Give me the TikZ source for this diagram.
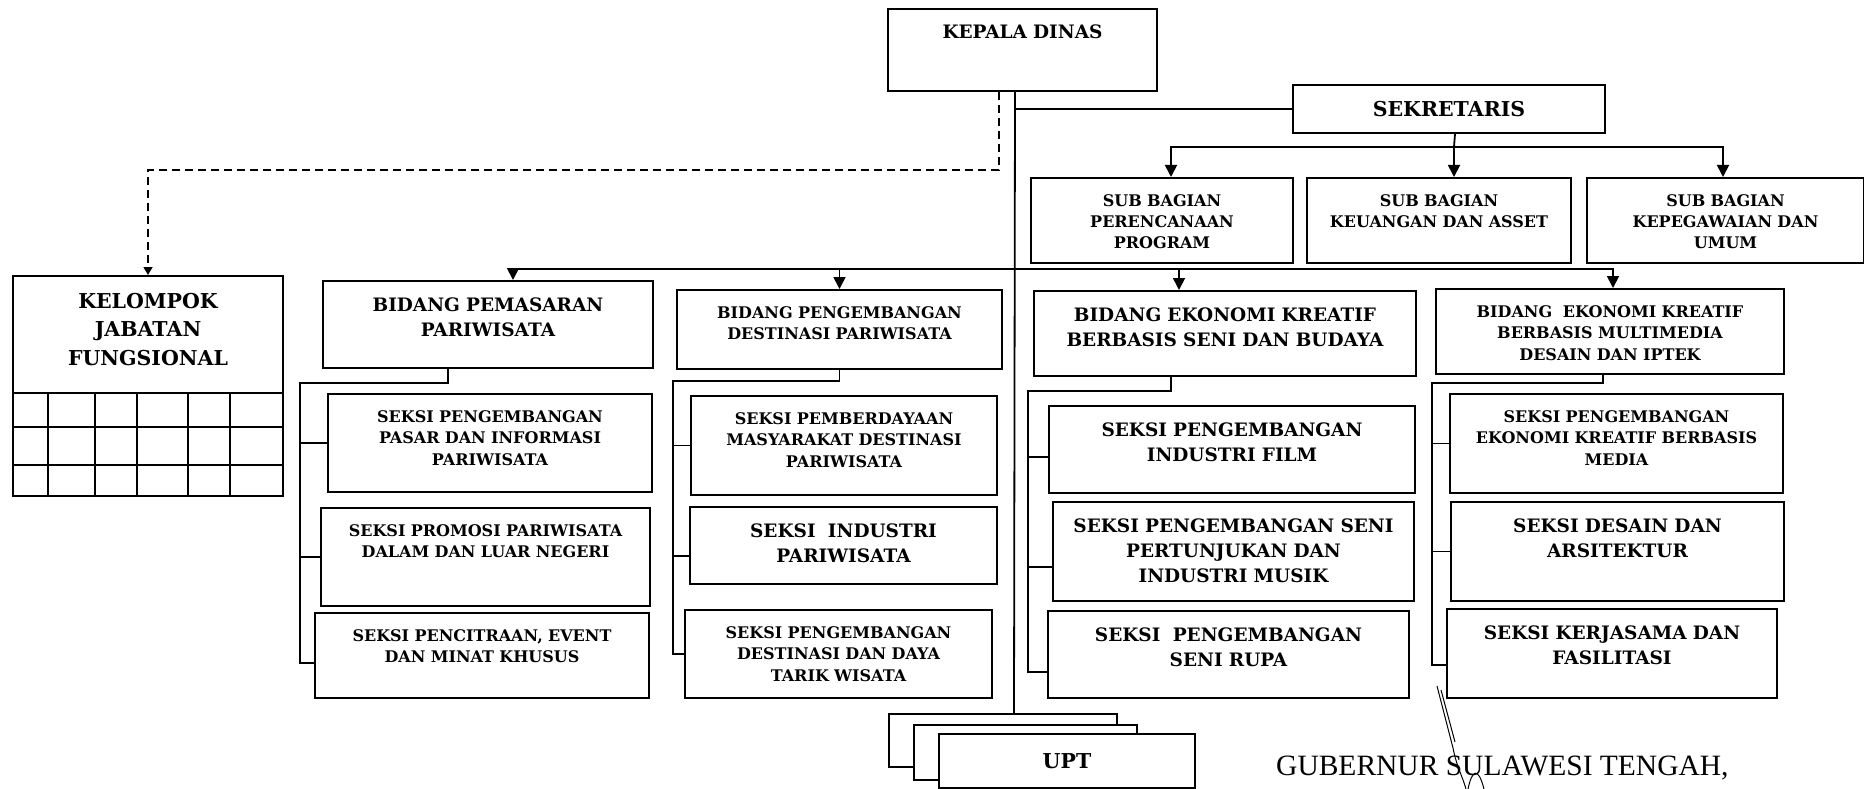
\documentclass[tikz,border=0pt]{standalone}
\usepackage{fontspec}
\setmainfont{DejaVu Serif}
\newfontfamily\signfont{Liberation Serif}
\usetikzlibrary{arrows.meta, positioning, calc}

\begin{document}
\begin{tikzpicture}[
    x=1pt, y=-1pt,
    box/.style={draw, line width=2pt, anchor=north west, inner sep=0pt, align=center},
    smallbox/.style 2 args={box, font=\fontsize{16}{21.5}\selectfont\bfseries, text width=#1pt, text height=28pt, text depth=#2pt-28pt},
    midbox/.style 2 args={box, font=\fontsize{18.5}{25}\selectfont\bfseries, text width=#1pt, text height=30pt, text depth=#2pt-30pt},
    bigbox/.style 2 args={box, font=\fontsize{20.5}{28.5}\selectfont\bfseries, text width=#1pt, text height=32pt, text depth=#2pt-32pt},
    uptbox/.style 2 args={box, fill=white, minimum width=#1pt, minimum height=#2pt},
    conn/.style={line width=1.8pt},
    arrow/.style={conn, -{Triangle[length=12pt, width=12pt]}},
    dashline/.style={line width=1.4pt, dash pattern=on 8pt off 5pt, -{Triangle[length=8pt, width=9pt]}},
    gridline/.style={line width=1.8pt}
]
\useasboundingbox (0,0) rectangle (1864,789);

% Nodes
\node[midbox={269}{82}] (kepala) at (887,8) {KEPALA DINAS};
\node[bigbox={312}{48}] (sekretaris) at (1292,84) {SEKRETARIS};
\node[smallbox={262}{85}] (sbrenc) at (1030,177) {SUB BAGIAN\\PERENCANAAN\\PROGRAM};
\node[smallbox={264}{85}] (sbkeu) at (1306,177) {SUB BAGIAN\\KEUANGAN DAN ASSET};
\node[smallbox={277}{85}] (sbpeg) at (1586,177) {SUB BAGIAN\\KEPEGAWAIAN DAN\\UMUM};
\node[bigbox={270}{220}] (kelompok) at (12,275) {KELOMPOK\\JABATAN\\FUNGSIONAL};

\node[midbox={330}{87}] (bpem) at (322,280) {BIDANG PEMASARAN\\PARIWISATA};
\node[smallbox={325}{79}] (bdes) at (676,289) {BIDANG PENGEMBANGAN\\DESTINASI PARIWISATA};
\node[midbox={382}{85}] (bseni) at (1033,290) {BIDANG EKONOMI KREATIF\\BERBASIS SENI DAN BUDAYA};
\node[smallbox={348}{85}] (bmm) at (1435,288) {BIDANG\ \ EKONOMI KREATIF\\BERBASIS MULTIMEDIA\\DESAIN DAN IPTEK};

\node[smallbox={324}{98}] (spasar) at (327,393) {SEKSI PENGEMBANGAN\\PASAR DAN INFORMASI\\PARIWISATA};
\node[smallbox={329}{98}] (spromo) at (320,507) {SEKSI PROMOSI PARIWISATA\\DALAM DAN LUAR NEGERI};
\node[smallbox={334}{85}] (scitra) at (314,612) {SEKSI PENCITRAAN, EVENT\\DAN MINAT KHUSUS};

\node[smallbox={306}{99}] (sberdaya) at (690,395) {SEKSI PEMBERDAYAAN\\MASYARAKAT DESTINASI\\PARIWISATA};
\node[midbox={307}{77}] (sindustri) at (689,506) {SEKSI\ \ INDUSTRI\\PARIWISATA};
\node[smallbox={307}{88}] (sdaya) at (684,609) {SEKSI PENGEMBANGAN\\DESTINASI DAN DAYA\\TARIK WISATA};

\node[midbox={366}{87}] (sfilm) at (1048,405) {SEKSI PENGEMBANGAN\\INDUSTRI FILM};
\node[midbox={361}{99}] (spertunjukan) at (1052,501) {SEKSI PENGEMBANGAN SENI\\PERTUNJUKAN DAN\\INDUSTRI MUSIK};
\node[midbox={361}{87}] (srupa) at (1047,610) {SEKSI\ \ PENGEMBANGAN\\SENI RUPA};

\node[smallbox={333}{99}] (smedia) at (1449,393) {SEKSI PENGEMBANGAN\\EKONOMI KREATIF BERBASIS\\MEDIA};
\node[midbox={333}{99}] (sdesain) at (1450,501) {SEKSI DESAIN DAN\\ARSITEKTUR};
\node[midbox={330}{89}] (skerja) at (1446,608) {SEKSI KERJASAMA DAN\\FASILITASI};

\node[uptbox={228}{53}] (upt3) at (888,713) {};
\node[uptbox={223}{55}] (upt2) at (913,724) {};
\node[uptbox={256}{54}, font=\fontsize{20.5}{24}\selectfont\bfseries] (upt1) at (938,733) {UPT};

\node[anchor=base west, inner sep=0pt, font=\signfont\fontsize{29.5}{29.5}\selectfont] (gubernur) at (1276,775) {GUBERNUR SULAWESI TENGAH,};

% Grid of the fungsional box
\foreach \gy in {393,427,465} \draw[gridline] (12,\gy) -- (282,\gy);
\foreach \gx in {48,95,137,188,230} \draw[gridline] (\gx,393) -- (\gx,495);

% Lines
\coordinate (bidbus) at (1014,269);
\coordinate (subbus) at (1454,147);
\draw[conn] ([xshift=-7.5pt]kepala.south) -- (upt3.north -| bidbus);
\draw[conn] (sekretaris.west) -- (sekretaris.west -| bidbus);
\draw[dashline] ([xshift=-23.5pt]kepala.south) |- ([yshift=105pt]kelompok.north) -- (kelompok.north);

\draw[conn] ([xshift=6pt]sekretaris.south) -- (subbus);
\draw[arrow] (subbus) -| ([xshift=9pt]sbrenc.north);
\draw[arrow] (subbus) -- (subbus |- sbkeu.north);
\draw[arrow] (subbus) -| ([xshift=-2.5pt]sbpeg.north);

\draw[arrow] (bidbus) -| ([xshift=25pt]bpem.north);
\draw[arrow] (bidbus) -| (bdes.north);
\draw[arrow] (bidbus) -| ([xshift=-46pt]bseni.north);
\draw[arrow] (bidbus) -| ([xshift=3pt]bmm.north);

\coordinate (pemrail) at (300,383);
\coordinate (desrail) at (673,381);
\coordinate (senirail) at (1028,391);
\coordinate (mmrail) at (1432,383);
\draw[conn] ([xshift=-40pt]bpem.south) |- (pemrail) |- ([yshift=-7.5pt]scitra.west);
\draw[conn] (bdes.south) |- (desrail) |- (sdaya.west);
\draw[conn] ([xshift=-54pt]bseni.south) |- (senirail) |- ([yshift=-17.5pt]srupa.west);
\draw[conn] ([xshift=-7pt]bmm.south) |- (mmrail) |- ([yshift=-11.5pt]skerja.west);
\foreach \r/\s/\d in {pemrail/spasar/0, pemrail/spromo/0, desrail/sberdaya/0, desrail/sindustri/-10.5,
    senirail/sfilm/-7.5, senirail/spertunjukan/-15.5, mmrail/smedia/0, mmrail/sdesain/0}{
  \path ([yshift=\d pt]\s.west) coordinate (stub);
  \draw[conn] (stub) -- (stub -| \r);
}

% paraf
\draw[line width=1pt] (1437,686) -- (1453,748) .. controls (1457,768) and (1462,775) .. (1466,789);
\draw[line width=1pt] (1441,690) -- (1455,742);
\draw[line width=1pt] (1468,789) .. controls (1472,770) and (1478,766) .. (1484,789);
\end{tikzpicture}
\end{document}
